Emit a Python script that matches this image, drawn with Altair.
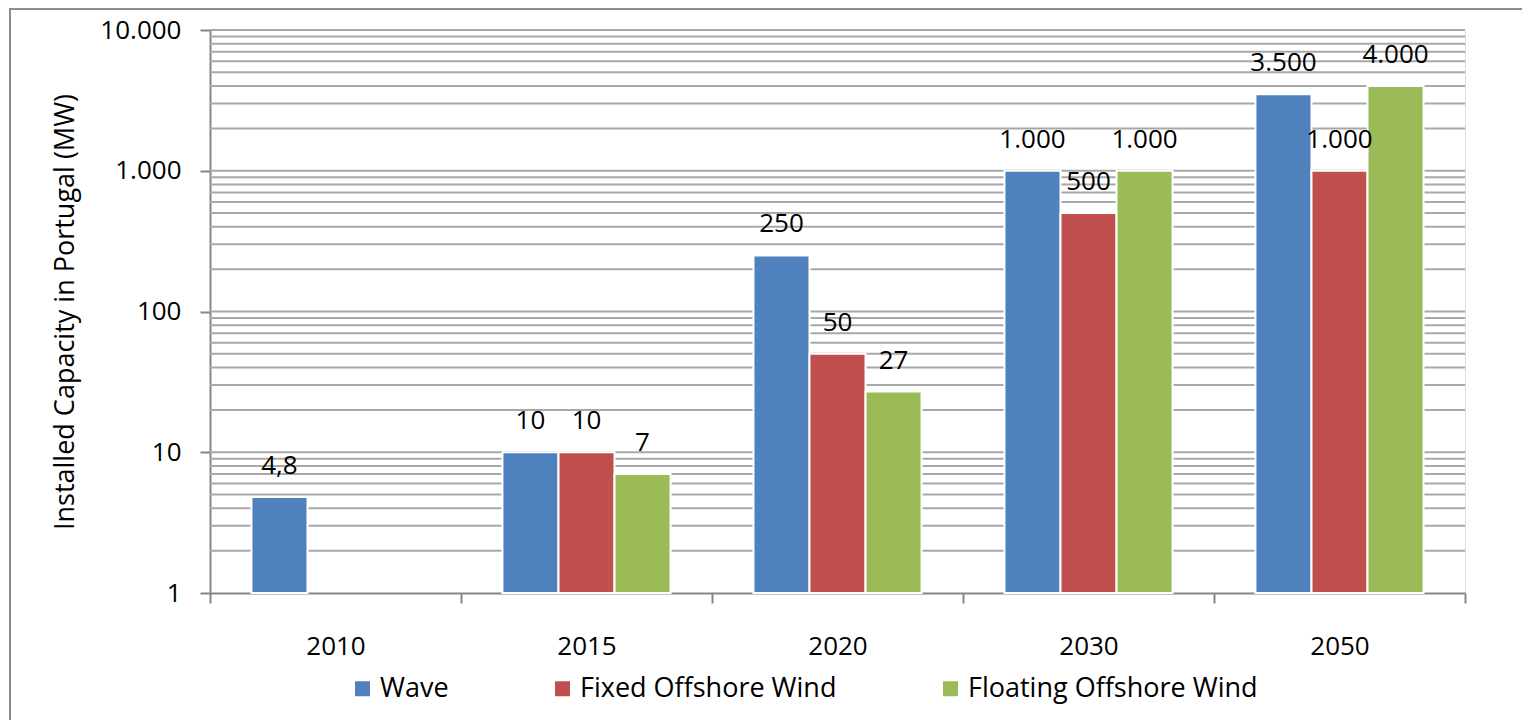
import altair as alt
import pandas as pd

years = ["2010", "2015", "2020", "2030", "2050"]
series = ["Wave", "Fixed Offshore Wind", "Floating Offshore Wind"]
wave = [4.8, 10, 250, 1000, 3500]
fixed = [None, 10, 50, 500, 1000]
floating = [None, 7, 27, 1000, 4000]
colors = ["#4F81BD", "#C0504D", "#9BBB59"]
grid_values = [m * 10 ** e for e in range(0, 4) for m in range(2, 11)]
y_ticks = [1, 10, 100, 1000, 10000]


def pt_label(v):
    if float(v).is_integer():
        return f"{int(v):,}".replace(",", ".")
    return f"{v}".replace(".", ",")


rows = []
for name, vals in zip(series, [wave, fixed, floating]):
    for yr, v in zip(years, vals):
        if v is not None:
            rows.append({"year": yr, "series": name, "value": v, "label": pt_label(v)})
df = pd.DataFrame(rows)
grid_df = pd.DataFrame({"g": grid_values})

FONT = "Open Sans"
FS = 26
W, H = 1255, 563

yscale = alt.Scale(type="log", domain=[1, 10000], nice=False)
yaxis = alt.Axis(
    values=y_ticks,
    title="Installed Capacity in Portugal (MW)",
    labelExpr="replace(format(datum.value, ','), ',', '.')",
    grid=False,
    domainColor="#868686",
    domainWidth=2,
    tickColor="#868686",
    tickWidth=2,
    tickSize=10,
    labelPadding=19,
    labelFontSize=FS,
    labelFont=FONT,
    labelColor="#000000",
    titleFont=FONT,
    titleFontSize=27,
    titleFontWeight="normal",
    titleColor="#000000",
    titlePadding=20,
)

xenc = alt.X(
    "year:N",
    sort=years,
    scale=alt.Scale(paddingInner=0, paddingOuter=0),
    axis=alt.Axis(
        title=None,
        labelAngle=0,
        tickBand="extent",
        domainColor="#868686",
        domainWidth=2,
        tickColor="#868686",
        tickWidth=2,
        tickSize=10,
        labelPadding=30,
        labelFontSize=FS,
        labelFont=FONT,
        labelColor="#000000",
    ),
)
xoff = alt.XOffset(
    "series:N",
    sort=series,
    scale=alt.Scale(domain=series, paddingInner=0, paddingOuter=0.74),
)

frame = alt.Chart(alt.Data(values=[{}])).mark_rect(
    fillOpacity=0, stroke="#8c8c8c", strokeWidth=2
).encode(
    x=alt.value(-200), x2=alt.value(1400), y=alt.value(-21), y2=alt.value(800)
)

grid = alt.Chart(grid_df).mark_rule(color="#a8a8a8", strokeWidth=2).encode(
    y=alt.Y("g:Q", scale=yscale, axis=yaxis)
)

bars = alt.Chart(df).mark_bar(stroke="white", strokeWidth=2).encode(
    x=xenc,
    xOffset=xoff,
    y=alt.Y("value:Q", scale=yscale, axis=yaxis),
    y2=alt.datum(1),
    color=alt.Color(
        "series:N",
        sort=series,
        scale=alt.Scale(domain=series, range=colors),
        legend=alt.Legend(
            title=None,
            orient="none",
            direction="horizontal",
            legendX=139,
            legendY=645,
            symbolType="square",
            symbolSize=225,
            symbolStrokeWidth=0,
            labelFont=FONT,
            labelFontSize=27,
            labelColor="#000000",
            labelLimit=0,
            columnPadding=100,
            labelOffset=4,
        ),
    ),
)

text = alt.Chart(df).mark_text(
    dy=-31, fontSize=FS, font=FONT, color="#000000", baseline="middle"
).encode(
    x=xenc,
    xOffset=xoff,
    y=alt.Y("value:Q", scale=yscale, axis=yaxis),
    text="label:N",
)

chart = (
    alt.layer(frame, grid, bars, text)
    .properties(
        width=W,
        height=H,
        autosize=alt.AutoSizeParams(type="none"),
        padding={"left": 202, "top": 22, "right": 57, "bottom": 127},
    )
    .configure_view(stroke=None)
    .configure(background="white")
)

chart.save("out.html", embed_options={"renderer": "svg", "actions": False})
